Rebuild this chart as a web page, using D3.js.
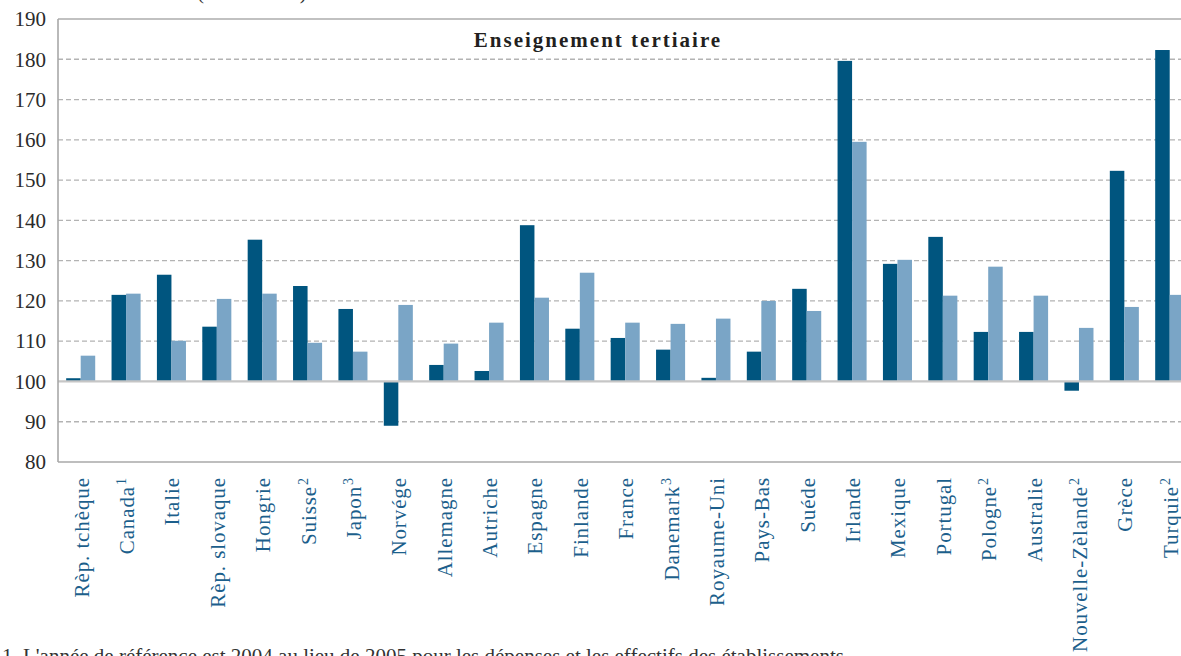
<!DOCTYPE html>
<html>
<head>
<meta charset="utf-8">
<script src="https://cdn.jsdelivr.net/npm/d3@7"></script>
<style>
html,body{margin:0;padding:0;background:#fff;overflow:hidden;}
svg{display:block;}
</style>
</head>
<body>
<svg id="chart" width="1181" height="656"></svg>
<script>
// ---- data ----
const countries = ["Rèp. tchèque","Canada","Italie","Rèp. slovaque","Hongrie","Suisse","Japon","Norvège","Allemagne","Autriche","Espagne","Finlande","France","Danemark","Royaume-Uni","Pays-Bas","Suède","Irlande","Mexique","Portugal","Pologne","Australie","Nouvelle-Zèlande","Grèce","Turquie"];
const labelNames = ["Rèp. tchèque","Canada","Italie","Rèp. slovaque","Hongrie","Suisse","Japon","Norvége","Allemagne","Autriche","Espagne","Finlande","France","Danemark","Royaume-Uni","Pays-Bas","Suéde","Irlande","Mexique","Portugal","Pologne","Australie","Nouvelle-Zèlande","Grèce","Turquie"];
const notes = ["","1","","","","2","3","","","","","","","3","","","","","","","2","","2","","2"];
const seriesA = [100.8,121.5,126.5,113.6,135.2,123.7,118.0,89.0,104.1,102.6,138.8,113.1,110.8,107.9,100.9,107.4,123.0,179.6,129.2,135.9,112.3,112.3,97.7,152.3,182.3];
const seriesB = [106.4,121.8,110.1,120.5,121.8,109.6,107.4,119.0,109.4,114.6,120.8,127.0,114.6,114.3,115.6,120.0,117.5,159.5,130.2,121.3,128.5,121.3,113.3,118.5,121.5];
const yTicks = [80,90,100,110,120,130,140,150,160,170,180,190];
const title = "Enseignement tertiaire";
const baseValue = 100;

// ---- layout ----
(function(){
const svg = d3.select("#chart");
const mLeft = 58, mRight = 1192.4, mTop = 19, mBottom = 462;
const serif = "'Liberation Serif','Times New Roman',serif";
const darkCol = "#00557f", lightCol = "#7aa5c6";

const y = d3.scaleLinear().domain([80,190]).range([mBottom, mTop]);
const x0 = d3.scaleBand().domain(countries).range([mLeft, mRight]).paddingInner(0.36).paddingOuter(0.18);
const x1 = d3.scaleBand().domain(["a","b"]).range([0, x0.bandwidth()]);

// partial header line (cut off at top)
svg.append("text").attr("x",197).attr("y",-1).attr("font-family",serif).attr("font-size",21)
  .attr("fill","#333").text("(2000 = 100)");

// gridlines
svg.append("g").selectAll("line").data(yTicks.filter(t => t !== 80 && t !== 190 && t !== baseValue))
  .join("line")
  .attr("x1", mLeft).attr("x2", 1181)
  .attr("y1", d => y(d)).attr("y2", d => y(d))
  .attr("stroke", "#b3b3b3").attr("stroke-width", 1.3).attr("stroke-dasharray", "5,3");

// frame top & bottom
svg.append("line").attr("x1",mLeft).attr("x2",1181).attr("y1",y(190)).attr("y2",y(190)).attr("stroke","#adadad").attr("stroke-width",1.6);
svg.append("line").attr("x1",mLeft).attr("x2",1181).attr("y1",y(80)).attr("y2",y(80)).attr("stroke","#a8a8a8").attr("stroke-width",1.6);

// bars
const groups = svg.append("g").selectAll("g").data(countries).join("g")
  .attr("transform", d => `translate(${x0(d)},0)`);
groups.append("rect")
  .attr("x", x1("a")).attr("width", x1.bandwidth())
  .attr("y", (d,i) => y(Math.max(seriesA[i], baseValue)))
  .attr("height", (d,i) => Math.abs(y(seriesA[i]) - y(baseValue)))
  .attr("fill", darkCol);
groups.append("rect")
  .attr("x", x1("b")).attr("width", x1.bandwidth())
  .attr("y", (d,i) => y(Math.max(seriesB[i], baseValue)))
  .attr("height", (d,i) => Math.abs(y(seriesB[i]) - y(baseValue)))
  .attr("fill", lightCol);

// base line at 100
svg.append("line").attr("x1",mLeft).attr("x2",1181).attr("y1",y(baseValue)).attr("y2",y(baseValue))
  .attr("stroke","#c6c6c6").attr("stroke-width",2.2);

// left axis line
svg.append("line").attr("x1",mLeft).attr("x2",mLeft).attr("y1",y(190)).attr("y2",y(80)).attr("stroke","#a8a8a8").attr("stroke-width",1.6);

// y axis labels
const yAxis = d3.axisLeft(y).tickValues(yTicks).tickSize(0).tickPadding(12);
const ya = svg.append("g").attr("transform",`translate(${mLeft},0)`).call(yAxis);
ya.select(".domain").remove();
ya.selectAll("text").attr("font-family",serif).attr("font-size",21).attr("fill","#2b2b2b");

// x labels
const xl = svg.append("g").selectAll("text").data(countries).join("text")
  .attr("transform", d => `translate(${x0(d) + x0.bandwidth()/2 + 1},477) rotate(-90)`)
  .attr("text-anchor","end").attr("dy","0.33em")
  .attr("font-family",serif).attr("font-size",21).attr("letter-spacing","0.9px")
  .attr("fill","#1c5f8c");
xl.append("tspan").text((d,i) => labelNames[i]);
xl.append("tspan").attr("font-size",14).attr("dy","-0.55em").attr("dx","1")
  .text((d,i) => notes[i]);

// title
svg.append("text").attr("x",598).attr("y",47).attr("text-anchor","middle")
  .attr("font-family",serif).attr("font-size",21).attr("font-weight","bold").attr("letter-spacing","2px")
  .attr("fill","#231f20").text(title);

// footnote (cut off at bottom)
svg.append("text").attr("x",2).attr("y",663).attr("font-family",serif).attr("font-size",21)
  .attr("fill","#333").text("1.  L'année de référence est 2004 au lieu de 2005 pour les dépenses et les effectifs des établissements.");
})();
</script>
</body>
</html>
